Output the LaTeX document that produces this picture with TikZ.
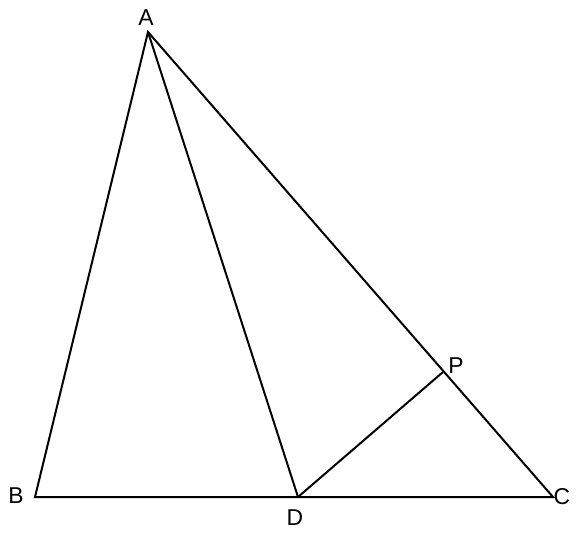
\documentclass[tikz,border=0pt]{standalone}
\usepackage{fontspec}
\setmainfont{Liberation Sans}
\usetikzlibrary{positioning}
\tikzset{
	pt/.style={coordinate},
	lbl/.style={inner sep=0pt,font=\fontsize{23}{27}\selectfont},
}
\begin{document}
\begin{tikzpicture}[x=1bp,y=-1bp,line width=2bp]
\useasboundingbox (0,0) rectangle (580,538);

%Vertices
\node [pt] (A) at (148,32) {};
\node [pt] (B) at (35,497) {};
\node [pt] (C) at (553,497) {};
\node [pt] (D) at (298,497) {};
\node [pt] (P) at (443,372) {};

%Labels
\node [lbl] (Atext) at (146,18) {A};
\node [lbl] (Btext) at (16,496) {B};
\node [lbl] (Ctext) at (562,497) {C};
\node [lbl] (Dtext) at (295,518) {D};
\node [lbl] (Ptext) at (456,366) {P};

%Triangle
\draw (A) -- (B) -- (C) -- cycle;

%Cevian and segment DP
\draw (A) -- (D);
\draw (D) -- (P);

\end{tikzpicture}
\end{document}
